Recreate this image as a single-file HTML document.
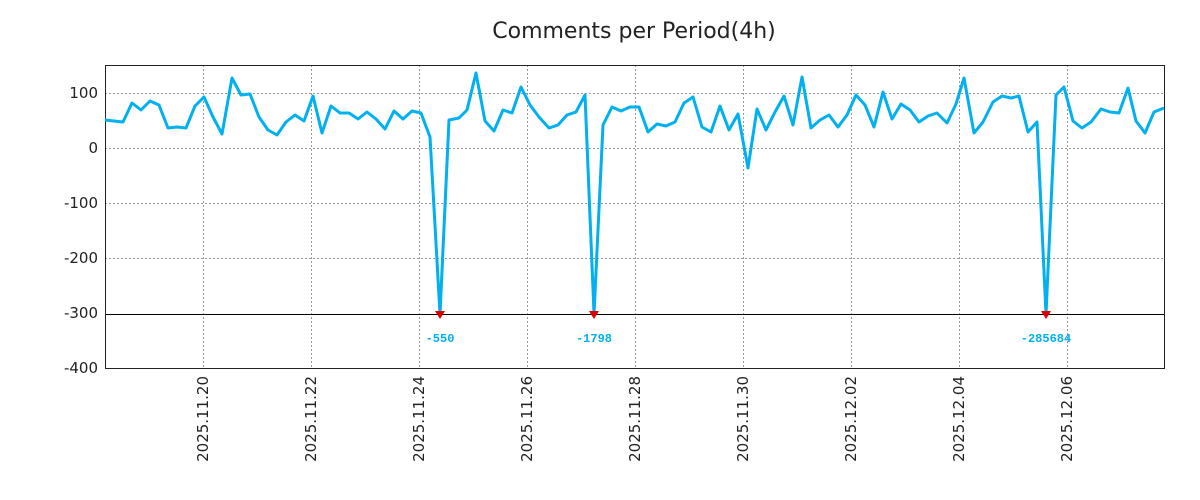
<!DOCTYPE html>
<html><head><meta charset="utf-8"><style>body{margin:0;background:#fff}svg{display:block}</style></head><body>
<svg width="1200" height="500" xmlns="http://www.w3.org/2000/svg" font-family="DejaVu Sans, Liberation Sans, sans-serif">
<rect width="1200" height="500" fill="#fff"/>
<text x="634" y="38" font-size="22" text-anchor="middle" fill="#222">Comments per Period(4h)</text>
<g stroke="#999" stroke-dasharray="2,2" stroke-width="1">
<line x1="105" x2="1164" y1="93.5" y2="93.5"/><line x1="105" x2="1164" y1="148.5" y2="148.5"/><line x1="105" x2="1164" y1="203.5" y2="203.5"/><line x1="105" x2="1164" y1="258.5" y2="258.5"/>
<line x1="203.5" x2="203.5" y1="65" y2="368"/><line x1="311.5" x2="311.5" y1="65" y2="368"/><line x1="419.5" x2="419.5" y1="65" y2="368"/><line x1="527.5" x2="527.5" y1="65" y2="368"/><line x1="635.5" x2="635.5" y1="65" y2="368"/><line x1="743.5" x2="743.5" y1="65" y2="368"/><line x1="851.5" x2="851.5" y1="65" y2="368"/><line x1="959.5" x2="959.5" y1="65" y2="368"/><line x1="1067.5" x2="1067.5" y1="65" y2="368"/>
</g>
<line x1="105" x2="1164" y1="314.5" y2="314.5" stroke="#000" stroke-width="1"/>
<rect x="105.5" y="65.5" width="1059" height="303" fill="none" stroke="#222" stroke-width="1"/>
<g stroke="#222" stroke-width="1" id="ticks"></g>
<g font-size="15" fill="#222" text-anchor="end">
<text x="98" y="98">100</text><text x="98" y="153">0</text><text x="98" y="208">-100</text><text x="98" y="263">-200</text><text x="98" y="318">-300</text><text x="98" y="373">-400</text>
</g>
<g font-size="15" fill="#222" text-anchor="end">
<text transform="translate(208,376) rotate(-90)">2025.11.20</text>
<text transform="translate(316,376) rotate(-90)">2025.11.22</text>
<text transform="translate(424,376) rotate(-90)">2025.11.24</text>
<text transform="translate(532,376) rotate(-90)">2025.11.26</text>
<text transform="translate(640,376) rotate(-90)">2025.11.28</text>
<text transform="translate(748,376) rotate(-90)">2025.11.30</text>
<text transform="translate(856,376) rotate(-90)">2025.12.02</text>
<text transform="translate(964,376) rotate(-90)">2025.12.04</text>
<text transform="translate(1072,376) rotate(-90)">2025.12.06</text>
</g>
<polyline fill="none" stroke="#00b0f0" stroke-width="3" stroke-linejoin="round" points="105,120 114,121 123,122 132,103 141,110 150,101 159,105 168,128 177,127 186,128 195,106 204,97 213,117 222,134 232,78 241,95 250,94 259,117 268,130 277,135 286,122 295,115 304,121 313,96 322,133 331,106 340,113 349,113 358,119 367,112 376,119 385,129 394,111 403,119 412,111 421,113 430,137 440,314 449,120 459,118 467,110 476,73 485,121 494,131 503,110 512,113 521,87 530,105 539,117 549,128 558,125 567,115 576,112 585,95 594,314 603,125 612,107 621,111 630,107 639,107 648,132 657,124 666,126 675,122 684,103 693,97 702,127 711,132 720,106 729,130 738,114 748,168 757,109 766,130 775,112 784,96 793,125 802,77 811,128 820,120 829,115 838,127 847,115 856,95 865,105 874,127 883,92 892,119 901,104 910,110 919,122 928,116 937,113 947,123 956,104 964,78 974,133 983,122 993,102 1002,96 1011,98 1019,96 1028,132 1037,122 1046,314 1056,95 1064,87 1073,121 1082,128 1091,122 1101,109 1110,112 1119,113 1128,88 1136,121 1145,133 1154,112 1164,108"/>
<g fill="#e00000"><polygon points="435,311 445,311 440,319"/><polygon points="589,311 599,311 594,319"/><polygon points="1041,311 1051,311 1046,319"/></g>
<g font-family="Liberation Mono, monospace" font-weight="bold" font-size="12" fill="#00b0f0" text-anchor="middle">
<text x="440" y="342">-550</text><text x="594" y="342">-1798</text><text x="1046" y="342">-285684</text>
</g>
<script>
var g=document.getElementById('ticks'),s='';
for(var x=122.5;x<1164;x+=27){s+='<line x1="'+x+'" x2="'+x+'" y1="65" y2="70"/><line x1="'+x+'" x2="'+x+'" y1="368" y2="363"/>';}
[93.5,148.5,203.5,258.5,313.5].forEach(function(y){s+='<line x1="105" x2="110" y1="'+y+'" y2="'+y+'"/><line x1="1164" x2="1159" y1="'+y+'" y2="'+y+'"/>';});
g.innerHTML=s;
</script>
</svg>
</body></html>
